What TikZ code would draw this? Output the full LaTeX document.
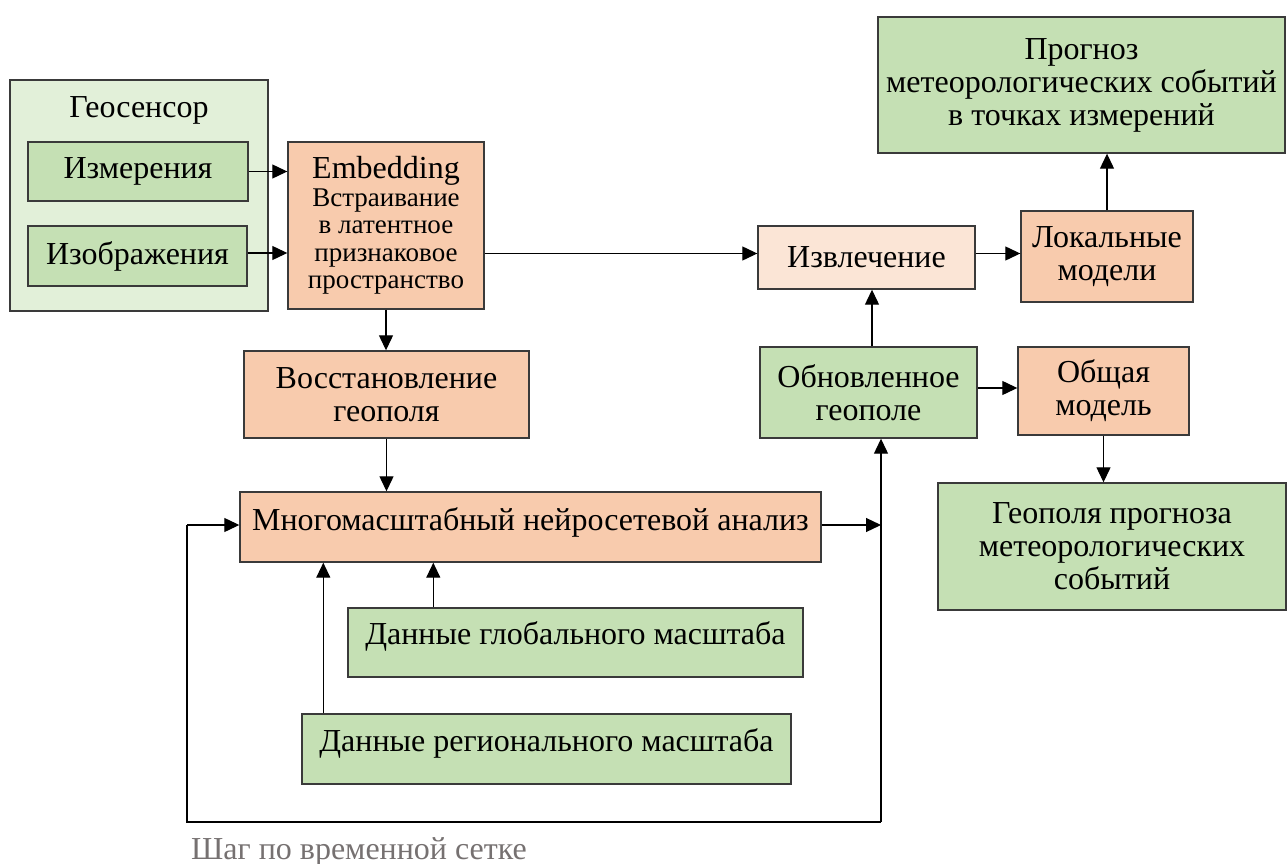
\documentclass[tikz,border=0pt]{standalone}
\usepackage{fontspec}
\setmainfont{Liberation Serif}
\newfontfamily\lserif{Liberation Serif}
\usetikzlibrary{arrows.meta,calc}
\definecolor{gfill}{HTML}{C5E0B4}
\definecolor{gout}{HTML}{E2F0D9}
\definecolor{ofill}{HTML}{F8CBAD}
\definecolor{pfill}{HTML}{FBE5D6}
\definecolor{bord}{HTML}{3A3A3A}
\definecolor{labgray}{HTML}{767171}
\begin{document}
\begin{tikzpicture}[x=1pt,y=-1pt,
  box/.style={draw=bord,line width=1.4pt,inner sep=0pt,align=center,font=\lserif\fontsize{32}{33}\selectfont},
  gbox/.style={box,fill=gfill},
  obox/.style={box,fill=ofill},
  arr/.style={-{Triangle[length=15pt,width=14pt]},line width=1.2pt},
  ln/.style={line width=1.2pt}]
\useasboundingbox (0,0) rectangle (1288,864);
% left group
\node[box,fill=gout,minimum width=258pt,minimum height=231pt] (geo) at (139,195.5) {};
\node[font=\lserif\fontsize{32}{33}\selectfont] (geotitle) at (139,110) {Геосенсор};
\node[gbox,minimum width=220pt,minimum height=59pt] (izm) at (138,171.5) {Измерения};
\node[gbox,minimum width=219pt,minimum height=60pt] (izo) at (137.5,256) {Изображения};
\node[obox,minimum width=196pt,minimum height=167pt,font=\lserif\fontsize{27}{27.5}\selectfont] (emb) at (386,225.5)
  {{\fontsize{32}{30}\selectfont Embedding}\\Встраивание\\в латентное\\признаковое\\пространство};
\node[obox,minimum width=285pt,minimum height=87pt] (vos) at (386.5,394.5) {Восстановление\\геополя};
\node[obox,minimum width=581pt,minimum height=70pt,text depth=16pt] (mnog) at (530.5,527) {Многомасштабный нейросетевой анализ};
\node[gbox,minimum width=455pt,minimum height=69pt,text depth=19pt] (glob) at (575.5,642.5) {Данные глобального масштаба};
\node[gbox,minimum width=489pt,minimum height=70pt,text depth=17pt] (reg) at (546.5,749) {Данные регионального масштаба};
% right group
\node[box,fill=pfill,minimum width=217pt,minimum height=63pt] (izvl) at (866.5,257.5) {Извлечение};
\node[obox,minimum width=172pt,minimum height=91pt] (lok) at (1107,256.5) {Локальные\\модели};
\node[gbox,minimum width=407pt,minimum height=136pt] (prog) at (1081.5,85) {Прогноз\\метеорологических событий\\в точках измерений};
\node[gbox,minimum width=217pt,minimum height=91pt] (obn) at (868.5,392.5) {Обновленное\\геополе};
\node[obox,minimum width=171pt,minimum height=88pt] (obsh) at (1103.5,391) {Общая\\модель};
\node[gbox,minimum width=348pt,minimum height=127pt] (geop) at (1112,546.5) {Геополя прогноза\\метеорологических\\событий};
% loop corners
\coordinate (loopL) at (187,822);
\coordinate (loopR) at (881,822);
\node[anchor=west,text=labgray,font=\lserif\fontsize{32}{33}\selectfont,inner sep=0pt] (step) at (191,852) {Шаг по временной сетке};
% connectors
\draw[arr] (izm.east) -- (izm.east -| emb.west);
\draw[arr] ($(izo.east)+(0,-3)$) -- ($(izo.east -| emb.west)+(0,-3)$);
\draw[arr] ($(emb.east |- izvl.west)+(0,-4)$) -- ($(izvl.west)+(0,-4)$);
\draw[arr] ($(izvl.east)+(0,-4)$) -- ($(izvl.east -| lok.west)+(0,-4)$);
\draw[arr] (lok.north) -- (lok.north |- prog.south);
\draw[arr] (emb.south) -- (emb.south |- vos.north);
\draw[arr] (vos.south) -- (vos.south |- mnog.north);
\draw[arr] ($(obn.north)+(3.5,0)$) -- ($(obn.north |- izvl.south)+(3.5,0)$);
\draw[arr] ($(obn.east)+(0,-4.5)$) -- ($(obn.east -| obsh.west)+(0,-4.5)$);
\draw[arr] (obsh.south) -- (obsh.south |- geop.north);
\draw[arr] ($(glob.north west)+(86,0)$) -- ($(glob.north west |- mnog.south)+(86,0)$);
\draw[arr] ($(reg.north west)+(22,0)$) -- ($(reg.north west |- mnog.south)+(22,0)$);
\draw[arr] ($(mnog.east)+(0,-2)$) -- ($(mnog.east -| loopR)+(0,-2)$);
\draw[arr] ($(mnog.west -| loopL)+(0,-2)$) -- ($(mnog.west)+(0,-2)$);
\draw[ln] ($(mnog.west -| loopL)+(0,-2)$) -- (loopL) -- (loopR);
\draw[arr] (loopR) -- (loopR |- obn.south);
\end{tikzpicture}
\end{document}
